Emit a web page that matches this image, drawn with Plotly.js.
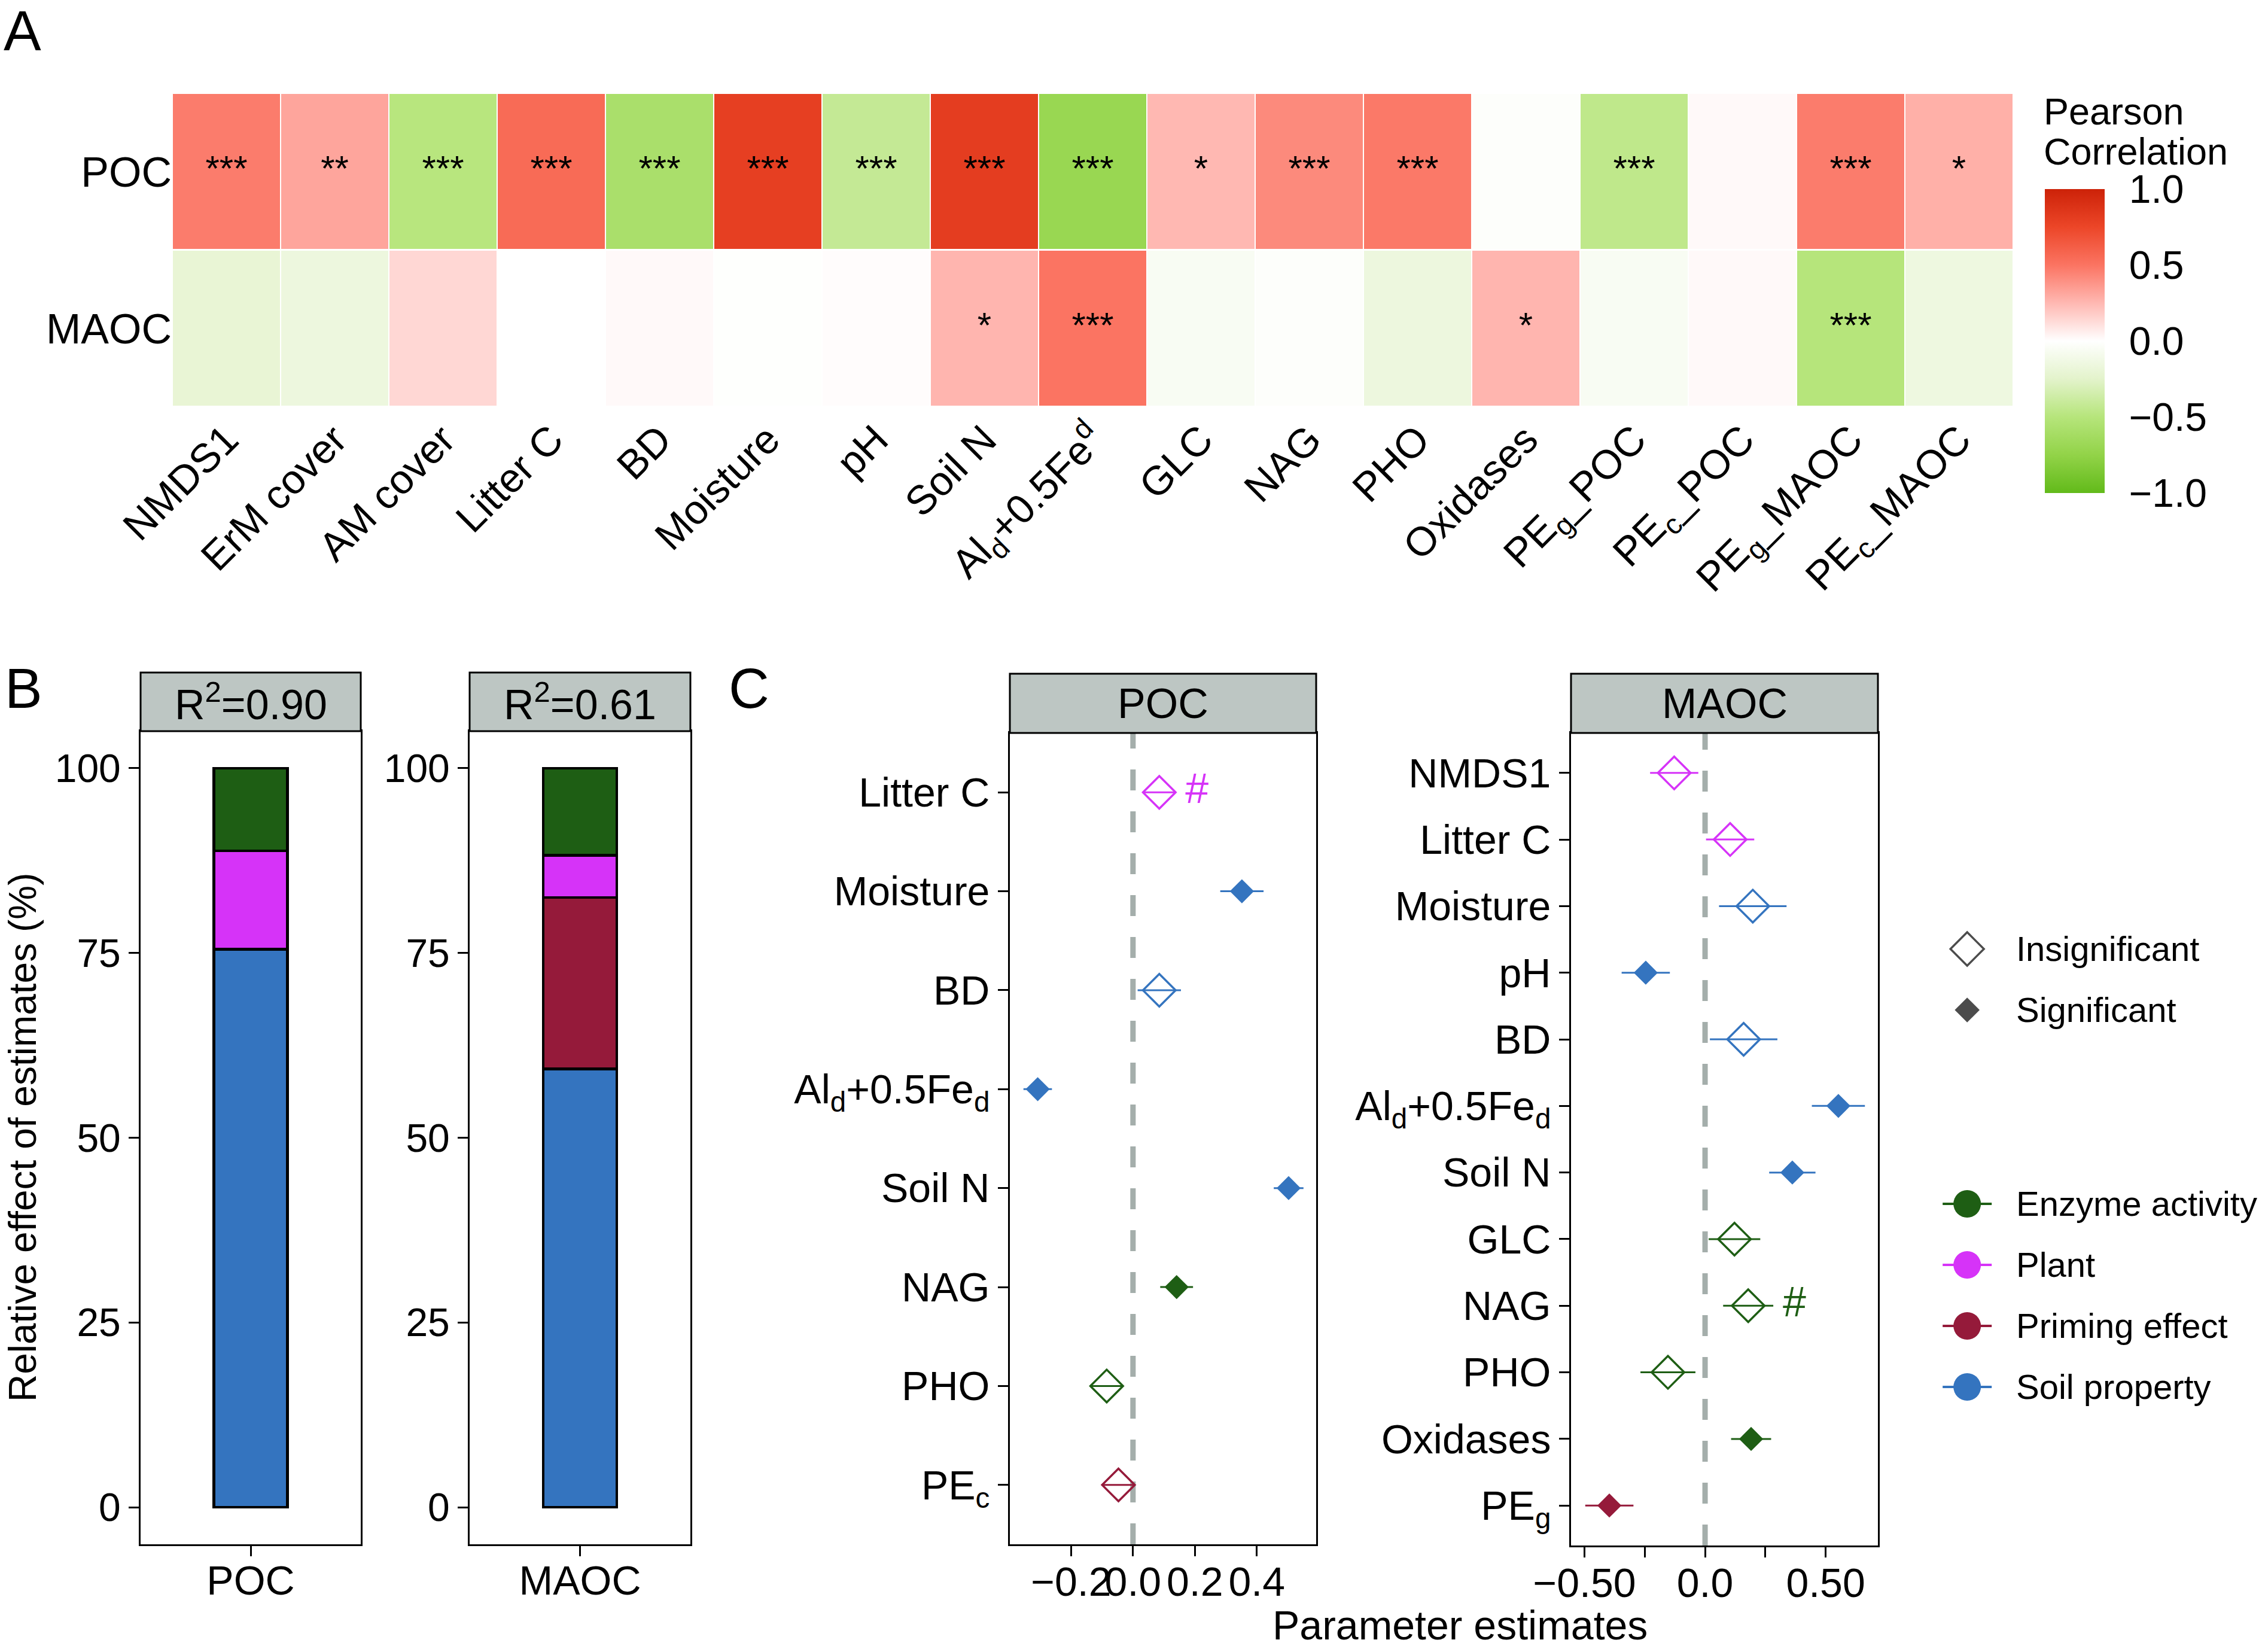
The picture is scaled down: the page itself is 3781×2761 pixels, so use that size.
<!DOCTYPE html>
<html>
<head>
<meta charset="utf-8">
<script src="https://cdn.plot.ly/plotly-3.0.1.min.js"></script>
<style>html,body{margin:0;padding:0;background:#fff;}</style>
</head>
<body>
<div id="chart" style="width:3781px;height:2761px;"></div>
<script>
// ---------------- DATA ----------------
// Panel A: Pearson correlation heatmap
const hmVars = ['NMDS1','ErM cover','AM cover','Litter C','BD','Moisture','pH','Soil N',
  'Al<sub>d</sub>+0.5Fe<sup>d</sup>','GLC','NAG','PHO','Oxidases',
  'PE<sub>g</sub>_POC','PE<sub>c</sub>_POC','PE<sub>g</sub>_MAOC','PE<sub>c</sub>_MAOC'];
const hmRows = ['POC','MAOC'];
const corrPOC  = [0.47, 0.32, -0.49, 0.55, -0.58, 0.80, -0.42, 0.81, -0.70, 0.25, 0.42, 0.48, -0.02, -0.45, 0.02, 0.47, 0.28];
const corrMAOC = [-0.20, -0.16, 0.14, 0.00, 0.02, -0.01, 0.01, 0.26, 0.50, -0.06, -0.02, -0.16, 0.26, -0.06, 0.02, -0.50, -0.15];
const sigPOC  = ['***','**','***','***','***','***','***','***','***','*','***','***','','***','','***','*'];
const sigMAOC = ['','','','','','','','*','***','','','','*','','','***',''];
const cbTicks = [-1, -0.5, 0, 0.5, 1];
const cbTickText = ['\u22121.0','\u22120.5','0.0','0.5','1.0'];

// Panel B: relative effect of estimates (%)
const bPanels = ['POC','MAOC'];
const bR2 = ['0.90','0.61'];
const relSoil    = [75.5, 59.3];
const relPriming = [null, 23.2];
const relPlant   = [13.3, 5.7];
const relEnzyme  = [11.2, 11.8];
const bTicks = [0, 25, 50, 75, 100];

// Groups
const groupNames  = ['Enzyme activity','Plant','Priming effect','Soil property'];
const groupColors = ['#1E5E14','#D633F8','#951A3A','#3474BF'];
const sigLabels = ['Insignificant','Significant'];

// Panel C: parameter estimates
const pocVars  = ['Litter C','Moisture','BD','Al<sub>d</sub>+0.5Fe<sub>d</sub>','Soil N','NAG','PHO','PE<sub>c</sub>'];
const pocEst   = [0.085, 0.352, 0.085, -0.308, 0.503, 0.141, -0.085, -0.047];
const pocErr   = [0.053, 0.070, 0.070, 0.046, 0.048, 0.053, 0.053, 0.053];
const pocGroup = ['Plant','Soil property','Soil property','Soil property','Soil property','Enzyme activity','Enzyme activity','Priming effect'];
const pocSig   = [false, true, false, true, true, true, false, false];
const pocMark  = ['#','','','','','','',''];

const maocVars  = ['NMDS1','Litter C','Moisture','pH','BD','Al<sub>d</sub>+0.5Fe<sub>d</sub>','Soil N','GLC','NAG','PHO','Oxidases','PE<sub>g</sub>'];
const maocEst   = [-0.128, 0.104, 0.198, -0.246, 0.160, 0.553, 0.362, 0.122, 0.179, -0.154, 0.191, -0.397];
const maocErr   = [0.100, 0.100, 0.140, 0.100, 0.140, 0.110, 0.096, 0.107, 0.104, 0.114, 0.083, 0.100];
const maocGroup = ['Plant','Plant','Soil property','Soil property','Soil property','Soil property','Soil property','Enzyme activity','Enzyme activity','Enzyme activity','Enzyme activity','Priming effect'];
const maocSig   = [false, false, false, true, false, true, true, false, false, false, true, true];
const maocMark  = ['','','','','','','','','#','','',''];

// ---------------- LAYOUT HELPERS ----------------
const W = 3781, H = 2761;
const fx = p => p / W;
const fy = p => 1 - p / H;
const FONT = 'Liberation Sans, Arial, Helvetica, sans-serif';
const colorOf = g => groupColors[groupNames.indexOf(g)];

const traces = [];
const annotations = [];
const shapes = [];

// ---------------- PANEL A ----------------
const CB = {left: 3418, width: 100, center: 570, len: 508};
traces.push({
  type: 'heatmap', x: hmVars, y: hmRows, z: [corrPOC, corrMAOC],
  zmin: -1, zmax: 1, xgap: 2, ygap: 3, hoverinfo: 'skip',
  colorscale: [[0,'#62BA1A'],[0.125,'#92D348'],[0.25,'#B6E57B'],[0.375,'#E3F3CB'],[0.5,'#FFFFFF'],
               [0.625,'#FFB8B2'],[0.75,'#FB7462'],[0.875,'#EC4628'],[1,'#CC2208']],
  xaxis: 'x', yaxis: 'y',
  colorbar: {
    x: fx(CB.left), xanchor: 'left', xpad: 0,
    y: fy(CB.center), yanchor: 'middle', ypad: 0,
    len: CB.len, lenmode: 'pixels', thickness: CB.width, thicknessmode: 'pixels',
    outlinewidth: 0, tickvals: cbTicks, ticktext: cbTickText,
    ticks: 'outside', ticklen: 28, tickwidth: 1, tickcolor: 'rgba(0,0,0,0)',
    tickfont: {size: 66, color: 'black', family: FONT}
  }
});
// white tick marks on the colour bar (both edges)
cbTicks.forEach(v => {
  const yp = CB.center - v * CB.len / 2;
  [[CB.left, CB.left + 20], [CB.left + CB.width - 20, CB.left + CB.width]].forEach(seg => {
    shapes.push({type: 'line', xref: 'paper', yref: 'paper', x0: fx(seg[0]), x1: fx(seg[1]),
      y0: fy(yp), y1: fy(yp), line: {color: 'white', width: 4}});
  });
});
traces.push({
  type: 'scatter', mode: 'text', xaxis: 'x', yaxis: 'y',
  x: hmVars.concat(hmVars),
  y: hmVars.map(() => hmRows[0]).concat(hmVars.map(() => hmRows[1])),
  text: sigPOC.concat(sigMAOC), textposition: 'middle center',
  textfont: {size: 60, color: 'black', family: FONT},
  hoverinfo: 'skip', showlegend: false, cliponaxis: false
});

// ---------------- PANEL B ----------------
const bStack = [
  {vals: relSoil, g: 'Soil property'},
  {vals: relPriming, g: 'Priming effect'},
  {vals: relPlant, g: 'Plant'},
  {vals: relEnzyme, g: 'Enzyme activity'}
];
bPanels.forEach((p, i) => {
  bStack.forEach(s => {
    traces.push({
      type: 'bar', x: [p], y: [s.vals[i]], width: 0.4,
      xaxis: 'x' + (2 + i), yaxis: 'y' + (2 + i),
      marker: {color: colorOf(s.g), line: {color: 'black', width: 4.5}},
      showlegend: false, hoverinfo: 'skip'
    });
  });
});

// ---------------- PANEL C ----------------
function addEstimates(vars, est, err, grp, sig, mark, ax) {
  groupNames.forEach(g => {
    [false, true].forEach(sg => {
      const idx = vars.map((v, i) => i).filter(i => grp[i] === g && sig[i] === sg);
      if (!idx.length) return;
      const col = colorOf(g);
      traces.push({
        type: 'scatter', mode: 'markers', xaxis: 'x' + ax, yaxis: 'y' + ax,
        x: idx.map(i => est[i]), y: idx.map(i => vars[i]),
        error_x: {type: 'data', array: idx.map(i => err[i]), visible: true, color: col, thickness: 3, width: 0},
        marker: sg ? {symbol: 'diamond', size: 31, color: col, line: {width: 0}}
                   : {symbol: 'diamond-open', size: 42, color: col, line: {width: 3.5, color: col}},
        showlegend: false, hoverinfo: 'skip', cliponaxis: false
      });
    });
  });
  const mi = vars.map((v, i) => i).filter(i => mark[i]);
  traces.push({
    type: 'scatter', mode: 'markers+text', xaxis: 'x' + ax, yaxis: 'y' + ax,
    x: mi.map(i => est[i] + err[i]), y: mi.map(i => vars[i]), text: mi.map(i => mark[i]),
    textposition: 'middle right', marker: {size: 24, opacity: 0},
    textfont: {size: 70, family: FONT, color: mi.map(i => colorOf(grp[i]))},
    showlegend: false, hoverinfo: 'skip', cliponaxis: false
  });
}
addEstimates(pocVars, pocEst, pocErr, pocGroup, pocSig, pocMark, 4);
addEstimates(maocVars, maocEst, maocErr, maocGroup, maocSig, maocMark, 5);

// ---------------- LEGENDS (category axes) ----------------
traces.push({
  type: 'scatter', mode: 'markers', xaxis: 'x6', yaxis: 'y6',
  x: sigLabels.map(() => 0.6), y: sigLabels,
  marker: {symbol: ['diamond-open','diamond'], size: [43, 32], color: '#000000', line: {width: [3.5, 0], color: '#000000'}},
  showlegend: false, hoverinfo: 'skip', cliponaxis: false
});
groupNames.forEach((g, i) => {
  traces.push({
    type: 'scatter', mode: 'markers', xaxis: 'x7', yaxis: 'y7',
    x: [0.6], y: [g],
    error_x: {type: 'constant', value: 0.2455, visible: true, color: groupColors[i], thickness: 4, width: 0},
    marker: {symbol: 'circle', size: 46, color: groupColors[i], line: {width: 0}},
    showlegend: false, hoverinfo: 'skip', cliponaxis: false
  });
});

// ---------------- AXES ----------------
const boxAxis = {
  showline: true, linecolor: 'black', linewidth: 3, mirror: true,
  ticks: 'outside', ticklen: 17, tickwidth: 3, tickcolor: 'black',
  showgrid: false, zeroline: false, fixedrange: true,
  tickfont: {size: 68, color: 'black', family: FONT}
};
const hidden = {visible: false, range: [0, 1], fixedrange: true};

const layout = {
  width: W, height: H, margin: {l: 0, r: 0, t: 0, b: 0},
  paper_bgcolor: 'white', plot_bgcolor: 'rgba(0,0,0,0)',
  font: {family: FONT, color: 'black', size: 66},
  showlegend: false, barmode: 'stack',
  // Panel A
  xaxis: {domain: [fx(288), fx(3365)], anchor: 'y', type: 'category', tickangle: -45,
          range: [-0.5, hmVars.length - 0.5], categoryorder: 'array', categoryarray: hmVars,
          ticks: '', showline: false, showgrid: false, zeroline: false, fixedrange: true,
          tickfont: {size: 68, color: 'black', family: FONT}},
  yaxis: {domain: [fy(680), fy(156)], anchor: 'x', type: 'category',
          range: [hmRows.length - 0.5, -0.5], categoryorder: 'array', categoryarray: hmRows,
          ticks: '', showline: false, showgrid: false, zeroline: false, fixedrange: true,
          tickfont: {size: 70, color: 'black', family: FONT}},
  // Panel B
  xaxis2: Object.assign({}, boxAxis, {domain: [fx(235), fx(603)], anchor: 'y2', type: 'category', range: [-0.6, 0.6], ticklabelstandoff: -18}),
  yaxis2: Object.assign({}, boxAxis, {domain: [fy(2581), fy(1222)], anchor: 'x2', range: [-5, 105], tickvals: bTicks, tickfont: {size: 66, color: 'black', family: FONT}}),
  xaxis3: Object.assign({}, boxAxis, {domain: [fx(785), fx(1154)], anchor: 'y3', type: 'category', range: [-0.6, 0.6], ticklabelstandoff: -18}),
  yaxis3: Object.assign({}, boxAxis, {domain: [fy(2581), fy(1222)], anchor: 'x3', range: [-5, 105], tickvals: bTicks, tickfont: {size: 66, color: 'black', family: FONT}}),
  // Panel C
  xaxis4: Object.assign({}, boxAxis, {domain: [fx(1688), fx(2200)], anchor: 'y4', range: [-0.398, 0.592], tickangle: 0,
          tickvals: [-0.2, 0, 0.2, 0.4], ticktext: ['\u22120.2','0.0','0.2','0.4'], ticklabelstandoff: -16}),
  yaxis4: Object.assign({}, boxAxis, {domain: [fy(2581), fy(1225)], anchor: 'x4', type: 'category',
          categoryorder: 'array', categoryarray: pocVars, range: [pocVars.length - 0.4, -0.6]}),
  xaxis5: Object.assign({}, boxAxis, {domain: [fx(2626), fx(3139)], anchor: 'y5', range: [-0.556, 0.717], tickangle: 0,
          tickvals: [-0.5, -0.25, 0, 0.25, 0.5], ticktext: ['\u22120.50','','0.0','','0.50'], ticklabelstandoff: -16}),
  yaxis5: Object.assign({}, boxAxis, {domain: [fy(2583), fy(1225)], anchor: 'x5', type: 'category',
          categoryorder: 'array', categoryarray: maocVars, range: [maocVars.length - 0.4, -0.6]}),
  // Legend axes
  xaxis6: Object.assign({}, hidden, {domain: [fx(3188), fx(3355)], anchor: 'y6'}),
  yaxis6: {domain: [fy(1739), fy(1535)], anchor: 'x6', side: 'right', type: 'category',
           categoryorder: 'array', categoryarray: sigLabels, range: [sigLabels.length - 0.5, -0.5],
           showline: false, ticks: '', showgrid: false, zeroline: false, fixedrange: true, ticklabelstandoff: 14,
           tickfont: {size: 58, color: 'black', family: FONT}},
  xaxis7: Object.assign({}, hidden, {domain: [fx(3188), fx(3355)], anchor: 'y7'}),
  yaxis7: {domain: [fy(2369), fy(1961)], anchor: 'x7', side: 'right', type: 'category',
           categoryorder: 'array', categoryarray: groupNames, range: [groupNames.length - 0.5, -0.5],
           showline: false, ticks: '', showgrid: false, zeroline: false, fixedrange: true, ticklabelstandoff: 14,
           tickfont: {size: 58, color: 'black', family: FONT}},
  annotations: annotations, shapes: shapes
};

// Strips
const strips = [
  {ax: 'x2', y0: 1222, y1: 1124, text: 'R<sup>2</sup>=' + bR2[0]},
  {ax: 'x3', y0: 1222, y1: 1124, text: 'R<sup>2</sup>=' + bR2[1]},
  {ax: 'x4', y0: 1225, y1: 1126, text: bPanels[0]},
  {ax: 'x5', y0: 1225, y1: 1126, text: bPanels[1]}
];
strips.forEach(s => {
  shapes.push({type: 'rect', xref: s.ax + ' domain', yref: 'paper', x0: 0, x1: 1,
    y0: fy(s.y0), y1: fy(s.y1), fillcolor: '#BDC6C3', line: {color: 'black', width: 3}});
  annotations.push({xref: s.ax + ' domain', yref: 'paper', x: 0.5, y: fy((s.y0 + s.y1) / 2),
    text: s.text, showarrow: false, xanchor: 'center', yanchor: 'middle',
    font: {size: 70, color: 'black', family: FONT}});
});

// Zero reference lines in panel C
['4', '5'].forEach(a => {
  shapes.push({type: 'line', xref: 'x' + a, yref: 'y' + a + ' domain', x0: 0, x1: 0, y0: 0, y1: 1,
    layer: 'below', line: {color: '#A4AEAB', width: 9, dash: '35px,35px'}});
});

// Titles and panel letters
annotations.push(
  {xref: 'paper', yref: 'paper', x: fx(3414), y: fy(186), xanchor: 'left', yanchor: 'middle', text: 'Pearson', showarrow: false, font: {size: 63, family: FONT, color: 'black'}},
  {xref: 'paper', yref: 'paper', x: fx(3414), y: fy(253), xanchor: 'left', yanchor: 'middle', text: 'Correlation', showarrow: false, font: {size: 63, family: FONT, color: 'black'}},
  {xref: 'paper', yref: 'paper', x: fx(4), y: fy(52), xanchor: 'left', yanchor: 'middle', text: 'A', showarrow: false, font: {size: 94, family: FONT, color: 'black'}},
  {xref: 'paper', yref: 'paper', x: fx(6), y: fy(1150), xanchor: 'left', yanchor: 'middle', text: 'B', showarrow: false, font: {size: 94, family: FONT, color: 'black'}},
  {xref: 'paper', yref: 'paper', x: fx(1216), y: fy(1150), xanchor: 'left', yanchor: 'middle', text: 'C', showarrow: false, font: {size: 94, family: FONT, color: 'black'}},
  {xref: 'paper', yref: 'paper', x: fx(38), y: fy(1901), xanchor: 'center', yanchor: 'middle', textangle: -90,
   text: 'Relative effect of estimates (%)', showarrow: false, font: {size: 64, family: FONT, color: 'black'}},
  {xref: 'paper', yref: 'paper', x: fx(2440), y: fy(2716), xanchor: 'center', yanchor: 'middle',
   text: 'Parameter estimates', showarrow: false, font: {size: 68, family: FONT, color: 'black'}}
);

Plotly.newPlot('chart', traces, layout, {staticPlot: true, displayModeBar: false});
</script>
</body>
</html>
